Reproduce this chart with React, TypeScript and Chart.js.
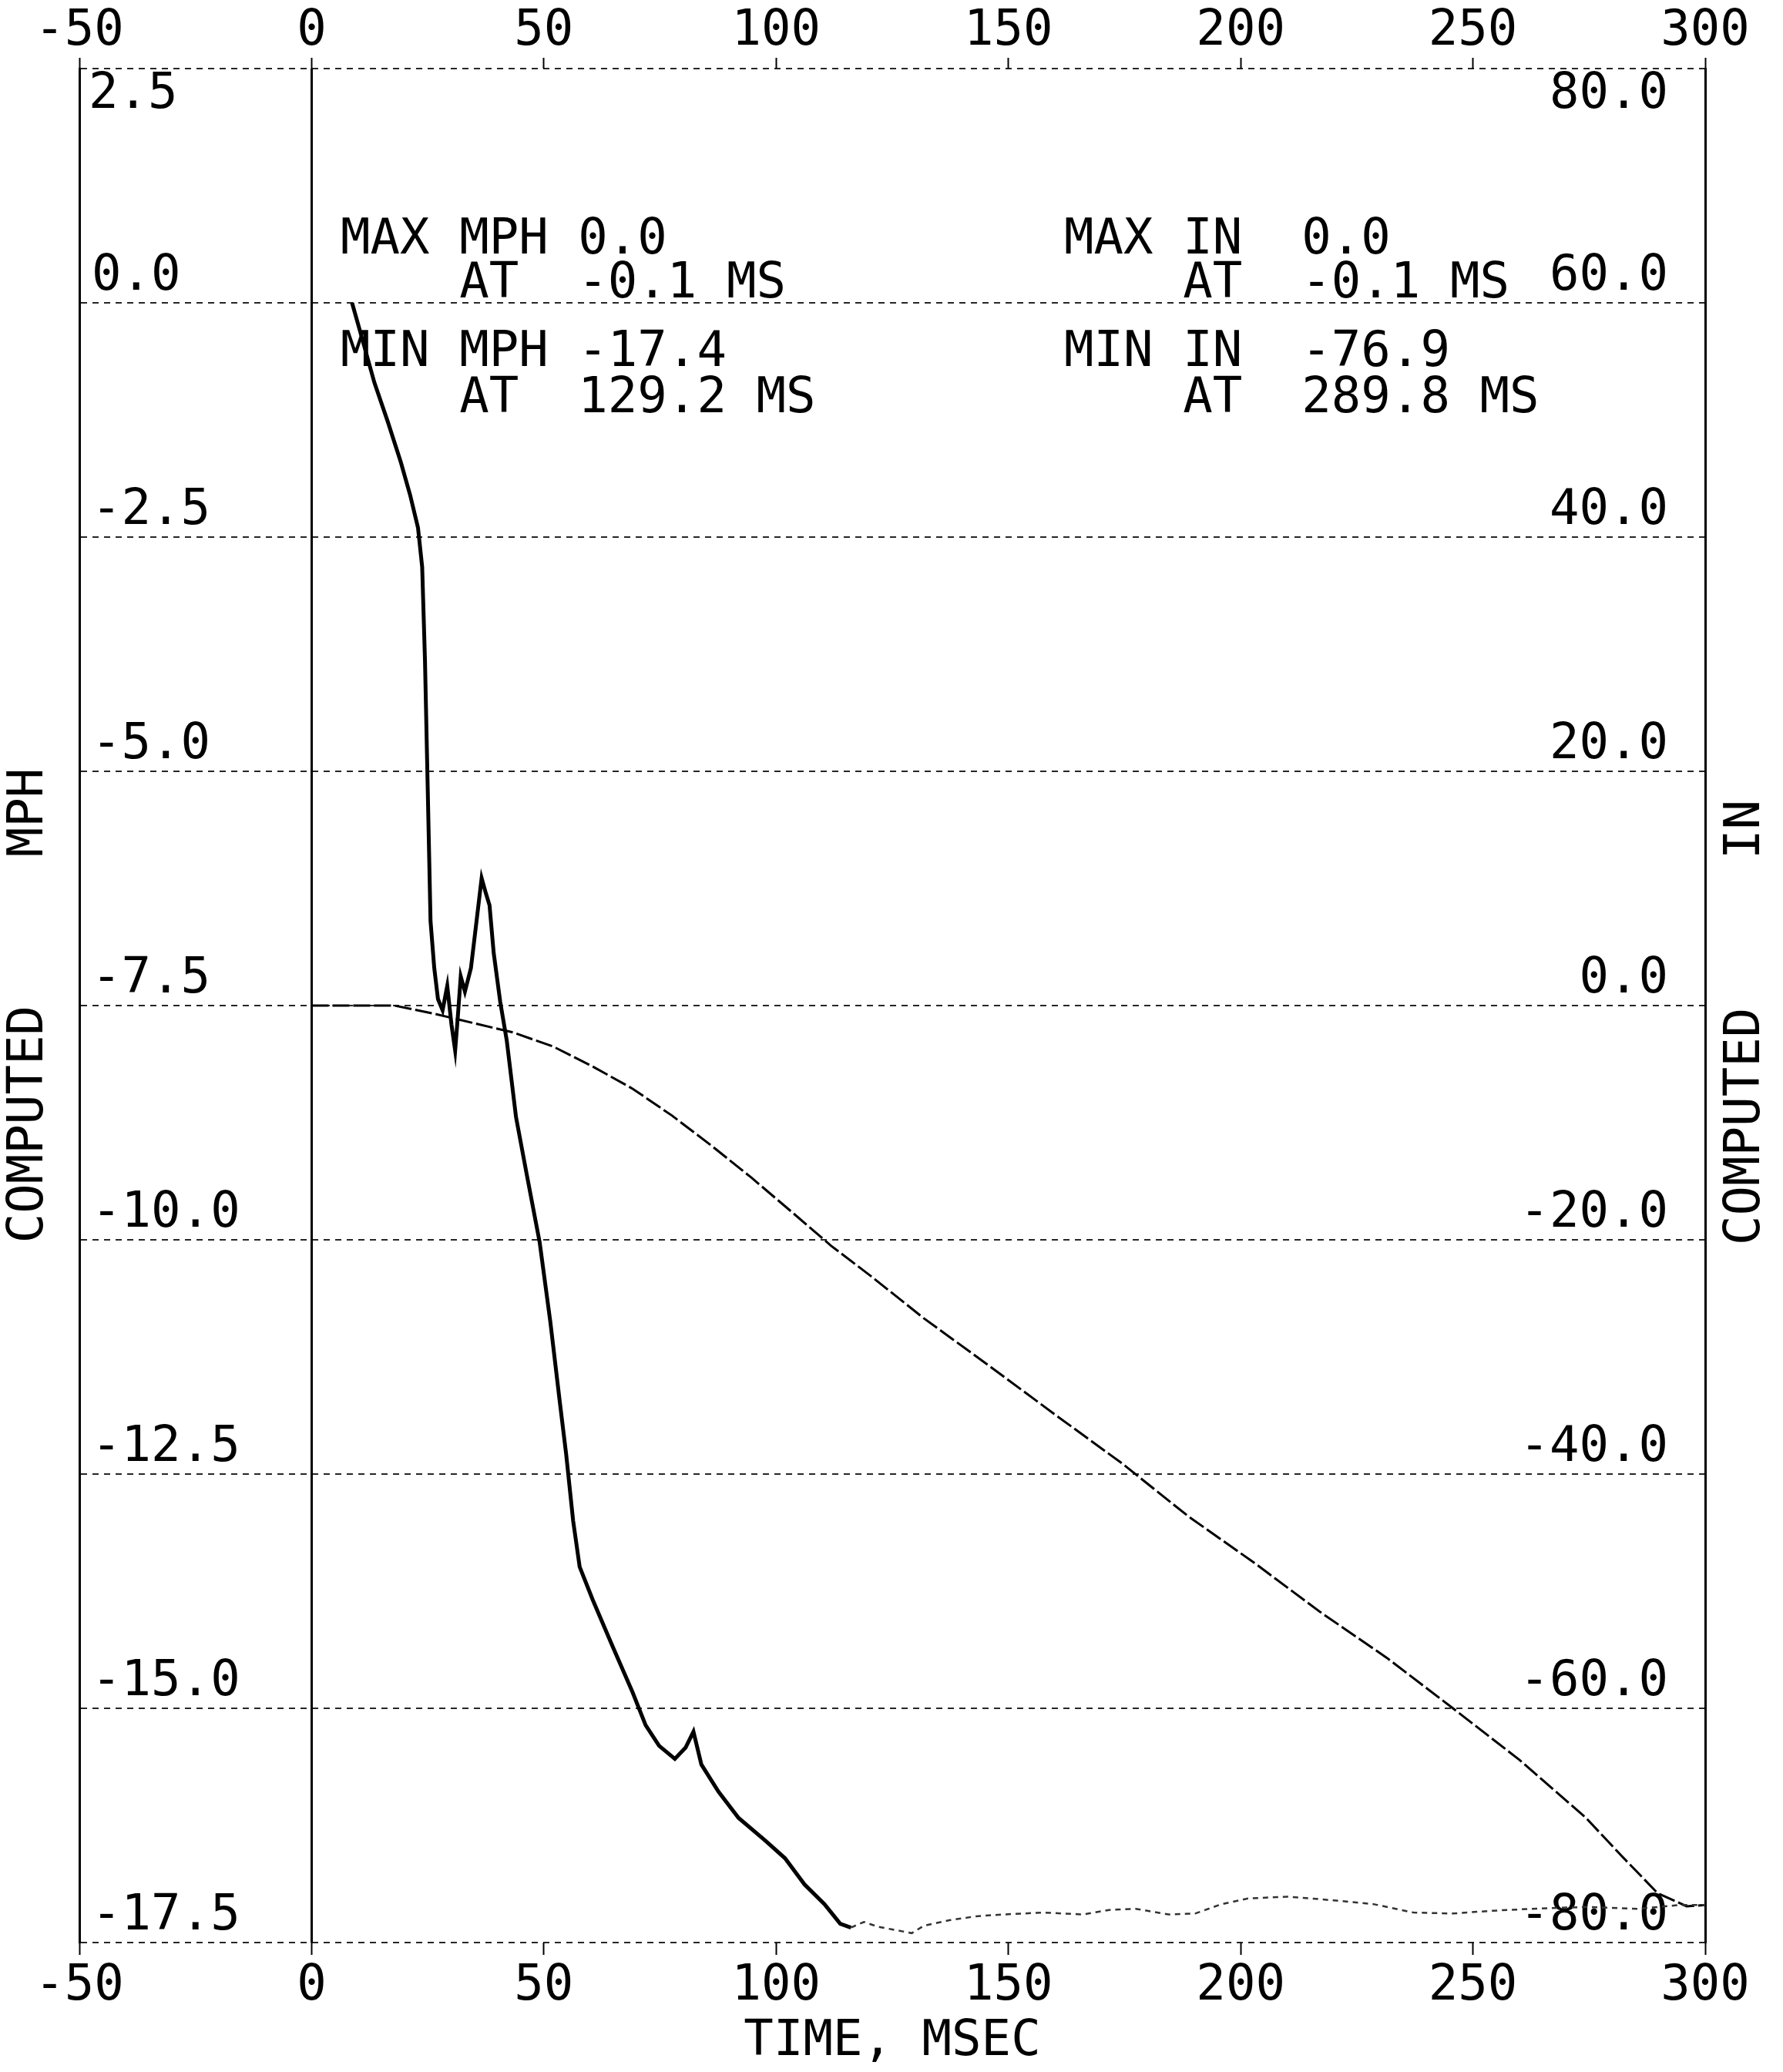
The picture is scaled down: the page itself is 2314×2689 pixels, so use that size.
import { useEffect, useRef } from 'react';
import { Chart, registerables } from 'chart.js';

Chart.register(...registerables);

const FONT = '"DejaVu Sans Mono", "Liberation Mono", monospace';

// Time axis (ms)
const xMin = -50;
const xMax = 300;
const xStep = 50;

// Left axis (MPH)
const mphMin = -17.5;
const mphMax = 2.5;
const mphStep = 2.5;

// Right axis (IN)
const inMin = -80;
const inMax = 80;
const inStep = 20;

// Computed MPH curve
const mphTime = [8.7, 10.7, 13.5, 16.4, 19.2, 21.2, 22.9, 23.8, 24.4, 25.0, 25.6, 26.4, 27.2, 28.2, 29.2, 30.1, 30.9, 31.5, 32.1, 33.0, 34.3, 35.5, 36.6, 37.5, 38.3, 39.2, 40.6, 42.0, 44.0, 46.3, 49.1, 51.4, 53.4, 54.8, 56.3, 57.7, 60.5, 64.8, 69.1, 71.9, 74.8, 78.2, 80.5, 82.2, 83.9, 87.6, 91.9, 97.6, 101.9, 106.1, 110.4, 113.8, 116.1, 118.9, 121.8, 125.0, 129.2, 131.8, 137.5, 143.0, 148.9, 157.4, 166.0, 172.0, 177.4, 184.5, 190.2, 195.9, 201.6, 210.1, 220.1, 228.6, 237.2, 245.7, 254.3, 262.8, 274.2, 285.6, 294.2, 300];
const mphValue = [0, -0.35, -0.85, -1.27, -1.7, -2.05, -2.4, -2.82, -3.81, -5.2, -6.6, -7.1, -7.43, -7.55, -7.29, -7.7, -7.98, -7.6, -7.19, -7.35, -7.1, -6.6, -6.14, -6.3, -6.43, -6.94, -7.46, -7.87, -8.69, -9.3, -10.03, -10.88, -11.72, -12.29, -13.0, -13.49, -13.84, -14.34, -14.83, -15.18, -15.4, -15.54, -15.42, -15.25, -15.6, -15.89, -16.17, -16.41, -16.6, -16.88, -17.09, -17.3, -17.34, -17.28, -17.33, -17.36, -17.4, -17.32, -17.26, -17.22, -17.2, -17.18, -17.2, -17.15, -17.14, -17.2, -17.19, -17.09, -17.03, -17.01, -17.05, -17.09, -17.18, -17.19, -17.16, -17.14, -17.12, -17.14, -17.1, -17.1];

// Computed IN curve
const inTime = [0, 17.8, 26.4, 34.9, 43.4, 52.0, 60.5, 69.1, 77.6, 86.2, 94.7, 103.3, 111.8, 120.4, 131.8, 146.0, 160.3, 174.5, 188.7, 203.0, 217.2, 231.5, 245.7, 260.0, 274.2, 282.0, 289.8, 296.0, 300];
const inValue = [0, 0, -0.7, -1.5, -2.3, -3.5, -5.2, -7.1, -9.4, -12.0, -14.7, -17.6, -20.5, -23.1, -26.7, -30.8, -35.0, -39.1, -43.6, -47.6, -51.8, -55.7, -60.0, -64.4, -69.3, -72.6, -75.8, -76.9, -76.8];

// Texts
const xTitle = 'TIME, MSEC';
const leftTitle = 'COMPUTED     MPH';
const rightTitle = 'COMPUTED     IN';
const leftNotes = ['MAX MPH 0.0', '    AT  -0.1 MS', 'MIN MPH -17.4', '    AT  129.2 MS'];
const rightNotes = ['MAX IN  0.0', '    AT  -0.1 MS', 'MIN IN  -76.9', '    AT  289.8 MS'];

const W = 2314;
const H = 2689;
const FS = 64;

const decorPlugin = {
  id: 'decor',
  afterDraw(chart: any) {
    const ctx = chart.ctx as CanvasRenderingContext2D;
    const a = chart.chartArea;
    const ys = chart.scales.y;
    ctx.save();
    ctx.fillStyle = '#000';
    ctx.font = `${FS}px ${FONT}`;
    // top-of-axis labels sit below the top line
    const yTop = ys.getPixelForValue(mphMax) + 34;
    ctx.textBaseline = 'middle';
    ctx.textAlign = 'left';
    ctx.fillText(mphMax.toFixed(1), a.left + 12, yTop);
    ctx.textAlign = 'right';
    ctx.fillText(inMax.toFixed(1), a.right - 48, yTop);
    // statistics block
    ctx.textAlign = 'left';
    ctx.textBaseline = 'alphabetic';
    const baselines = [329, 386, 475, 535];
    leftNotes.forEach((t, i) => ctx.fillText(t, 442, baselines[i]));
    rightNotes.forEach((t, i) => ctx.fillText(t, 1381, baselines[i]));
    // vertical axis titles (both read bottom-to-top)
    const cy = (a.top + a.bottom) / 2;
    ctx.textAlign = 'center';
    ctx.textBaseline = 'middle';
    ctx.save();
    ctx.translate(38, cy);
    ctx.rotate(-Math.PI / 2);
    ctx.fillText(leftTitle, 0, 0);
    ctx.restore();
    ctx.save();
    ctx.translate(2266, cy + 22);
    ctx.rotate(-Math.PI / 2);
    ctx.fillText(rightTitle, 0, 0);
    ctx.restore();
    ctx.restore();
  },
};

export default function App() {
  const ref = useRef<HTMLCanvasElement | null>(null);

  useEffect(() => {
    if (!ref.current) return;
    const tickFont = { family: FONT, size: FS };
    const chart = new Chart(ref.current, {
      type: 'line',
      data: {
        datasets: [
          {
            label: 'MPH',
            data: mphTime.map((t, i) => ({ x: t, y: mphValue[i] })),
            xAxisID: 'x',
            yAxisID: 'y',
            borderColor: '#000',
            borderWidth: 5,
            pointRadius: 0,
            tension: 0,
            fill: false,
            segment: {
              borderWidth: (c: any) => (c.p0.parsed.x >= 116 ? 2.5 : undefined),
              borderDash: (c: any) => (c.p0.parsed.x >= 116 ? [7, 6] : undefined),
              borderColor: (c: any) => (c.p0.parsed.x >= 116 ? '#333' : undefined),
            },
          },
          {
            label: 'IN',
            data: inTime.map((t, i) => ({ x: t, y: inValue[i] })),
            xAxisID: 'x',
            yAxisID: 'y1',
            borderColor: '#000',
            borderWidth: 3,
            borderDash: [22, 5],
            pointRadius: 0,
            tension: 0,
            fill: false,
          },
        ],
      },
      options: {
        responsive: false,
        animation: false,
        devicePixelRatio: 1,
        layout: { padding: 0 },
        plugins: { legend: { display: false }, tooltip: { enabled: false } },
        scales: {
          x: {
            type: 'linear',
            position: 'bottom',
            min: xMin,
            max: xMax,
            afterFit: (s: any) => { s.height = 168; },
            ticks: { stepSize: xStep, font: tickFont, color: '#000', padding: 3, maxRotation: 0, callback: (v: any) => String(v) },
            grid: {
              color: (c: any) => (c.tick && c.tick.value === 0 ? '#000' : 'rgba(0,0,0,0)'),
              lineWidth: 3,
              tickColor: '#000',
              tickLength: 16,
              tickWidth: 2,
            },
            border: { display: false },
            title: { display: true, text: xTitle, font: tickFont, color: '#000', padding: { top: 0, bottom: 0 } },
          },
          x2: {
            type: 'linear',
            position: 'top',
            min: xMin,
            max: xMax,
            afterFit: (s: any) => { s.height = 89; },
            ticks: { stepSize: xStep, font: tickFont, color: '#000', padding: -5, maxRotation: 0, callback: (v: any) => String(v) },
            grid: { drawOnChartArea: false, color: '#000', tickColor: '#000', tickLength: 14, tickWidth: 2 },
            border: { display: false },
          },
          y: {
            type: 'linear',
            position: 'left',
            min: mphMin,
            max: mphMax,
            afterFit: (s: any) => { s.width = 103; },
            ticks: {
              stepSize: mphStep,
              mirror: true,
              padding: 16,
              labelOffset: -34,
              font: tickFont,
              color: '#000',
              callback: (v: any) => (Math.abs(v - mphMax) < 1e-9 ? '' : Number(v).toFixed(1)),
            },
            grid: { color: 'rgba(0,0,0,0.85)', lineWidth: 2, drawTicks: false },
            border: { display: true, color: '#000', width: 3, dash: [8, 7] },
          },
          y1: {
            type: 'linear',
            position: 'right',
            min: inMin,
            max: inMax,
            afterFit: (s: any) => { s.width = W - 2213; },
            ticks: {
              stepSize: inStep,
              mirror: true,
              padding: -48,
              labelOffset: -34,
              font: tickFont,
              color: '#000',
              callback: (v: any) => (Math.abs(v - inMax) < 1e-9 ? '' : Number(v).toFixed(1)),
            },
            grid: { display: false, drawOnChartArea: false },
            border: { display: true, color: '#000', width: 3 },
          },
        },
      },
      plugins: [decorPlugin],
    } as any);
    return () => chart.destroy();
  }, []);

  return (
    <div style={{ position: 'fixed', left: 0, top: 0, width: W, height: H, background: '#fff' }}>
      <canvas ref={ref} width={W} height={H} style={{ width: W, height: H, display: 'block' }} />
    </div>
  );
}
